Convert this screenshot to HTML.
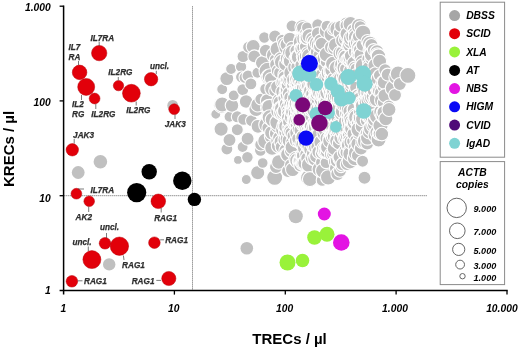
<!DOCTYPE html>
<html><head><meta charset="utf-8"><title>KRECs vs TRECs</title>
<style>html,body{margin:0;padding:0;background:#fff;}body{width:520px;height:349px;position:relative;overflow:hidden;font-family:"Liberation Sans",sans-serif;}</style></head>
<body>
<svg width="520" height="349" viewBox="0 0 520 349" style="position:absolute;left:0;top:0;will-change:transform">
<rect width="520" height="349" fill="#fff"/>
<line x1="192.5" y1="6.2" x2="192.5" y2="290.4" stroke="#6a6a6a" stroke-width="0.8" stroke-dasharray="1.3 0.7"/>
<line x1="63.6" y1="195.7" x2="427" y2="195.7" stroke="#6a6a6a" stroke-width="0.8" stroke-dasharray="1.3 0.7"/>
<g fill="#c0c0c0" stroke="#fff" stroke-width="1.1">
<circle cx="215.8" cy="114.2" r="5.0"/>
<circle cx="221.1" cy="129.1" r="7.1"/>
<circle cx="221.8" cy="105.2" r="8.0"/>
<circle cx="222.2" cy="89.2" r="5.5"/>
<circle cx="222.2" cy="104.5" r="7.5"/>
<circle cx="226.8" cy="78.6" r="7.0"/>
<circle cx="226.9" cy="149.0" r="6.0"/>
<circle cx="229.5" cy="116.8" r="5.5"/>
<circle cx="229.5" cy="140.0" r="6.5"/>
<circle cx="231.1" cy="69.0" r="5.5"/>
<circle cx="232.0" cy="105.5" r="6.8"/>
<circle cx="233.7" cy="95.4" r="5.5"/>
<circle cx="237.3" cy="116.8" r="6.0"/>
<circle cx="237.3" cy="129.7" r="6.0"/>
<circle cx="238.0" cy="159.9" r="4.5"/>
<circle cx="241.1" cy="66.7" r="5.7"/>
<circle cx="241.5" cy="77.0" r="6.0"/>
<circle cx="242.6" cy="147.0" r="5.5"/>
<circle cx="242.8" cy="89.6" r="6.0"/>
<circle cx="243.1" cy="56.5" r="6.1"/>
<circle cx="243.7" cy="119.4" r="6.0"/>
<circle cx="245.0" cy="77.5" r="6.0"/>
<circle cx="246.1" cy="101.5" r="6.8"/>
<circle cx="246.3" cy="179.5" r="5.0"/>
<circle cx="247.4" cy="157.3" r="5.8"/>
<circle cx="247.6" cy="138.7" r="6.5"/>
<circle cx="248.0" cy="76.0" r="6.0"/>
<circle cx="248.6" cy="47.2" r="6.0"/>
<circle cx="250.9" cy="83.9" r="6.0"/>
<circle cx="251.5" cy="120.6" r="6.0"/>
<circle cx="253.2" cy="46.5" r="7.0"/>
<circle cx="254.3" cy="56.4" r="6.5"/>
<circle cx="256.2" cy="109.1" r="7.4"/>
<circle cx="257.4" cy="72.7" r="5.5"/>
<circle cx="257.7" cy="172.7" r="7.1"/>
<circle cx="257.8" cy="104.9" r="7.1"/>
<circle cx="258.0" cy="126.3" r="6.9"/>
<circle cx="260.5" cy="150.3" r="6.0"/>
<circle cx="260.6" cy="99.1" r="5.8"/>
<circle cx="260.9" cy="144.8" r="6.2"/>
<circle cx="262.5" cy="62.8" r="7.1"/>
<circle cx="262.7" cy="163.0" r="5.4"/>
<circle cx="264.3" cy="37.5" r="5.7"/>
<circle cx="265.7" cy="140.9" r="8.0"/>
<circle cx="265.8" cy="50.6" r="6.5"/>
<circle cx="265.9" cy="89.1" r="6.2"/>
<circle cx="266.5" cy="124.8" r="7.8"/>
<circle cx="267.4" cy="100.7" r="7.0"/>
<circle cx="268.0" cy="71.3" r="9.0"/>
<circle cx="268.4" cy="107.6" r="7.9"/>
<circle cx="268.6" cy="114.9" r="6.8"/>
<circle cx="268.8" cy="77.2" r="7.9"/>
<circle cx="268.8" cy="127.9" r="6.9"/>
<circle cx="269.5" cy="107.2" r="7.8"/>
<circle cx="269.6" cy="117.3" r="7.5"/>
<circle cx="270.0" cy="76.6" r="7.9"/>
<circle cx="270.8" cy="78.8" r="6.3"/>
<circle cx="270.9" cy="136.6" r="6.6"/>
<circle cx="271.8" cy="132.7" r="7.2"/>
<circle cx="272.1" cy="147.9" r="7.4"/>
<circle cx="272.2" cy="88.6" r="7.5"/>
<circle cx="272.7" cy="119.7" r="7.5"/>
<circle cx="273.8" cy="55.2" r="7.5"/>
<circle cx="274.6" cy="90.9" r="5.9"/>
<circle cx="274.7" cy="177.4" r="8.0"/>
<circle cx="275.0" cy="36.4" r="6.4"/>
<circle cx="275.2" cy="59.5" r="5.9"/>
<circle cx="276.0" cy="167.0" r="6.5"/>
<circle cx="276.6" cy="64.6" r="7.0"/>
<circle cx="276.8" cy="133.7" r="7.4"/>
<circle cx="277.6" cy="87.1" r="7.0"/>
<circle cx="277.6" cy="49.0" r="7.6"/>
<circle cx="277.6" cy="126.3" r="7.0"/>
<circle cx="277.8" cy="122.4" r="8.0"/>
<circle cx="277.9" cy="141.2" r="7.1"/>
<circle cx="278.1" cy="70.9" r="6.8"/>
<circle cx="278.1" cy="111.3" r="7.3"/>
<circle cx="278.3" cy="146.0" r="7.0"/>
<circle cx="278.6" cy="107.4" r="6.2"/>
<circle cx="278.8" cy="162.0" r="7.3"/>
<circle cx="279.1" cy="105.9" r="6.8"/>
<circle cx="279.1" cy="137.7" r="6.5"/>
<circle cx="279.6" cy="100.9" r="7.8"/>
<circle cx="279.9" cy="72.7" r="6.3"/>
<circle cx="280.2" cy="102.5" r="7.1"/>
<circle cx="280.4" cy="107.5" r="6.5"/>
<circle cx="280.5" cy="113.6" r="6.7"/>
<circle cx="280.9" cy="112.5" r="7.2"/>
<circle cx="281.2" cy="59.3" r="7.5"/>
<circle cx="281.4" cy="82.5" r="5.8"/>
<circle cx="281.4" cy="141.9" r="7.4"/>
<circle cx="281.5" cy="146.9" r="6.3"/>
<circle cx="281.7" cy="130.0" r="6.1"/>
<circle cx="282.0" cy="61.9" r="7.6"/>
<circle cx="282.1" cy="108.8" r="7.6"/>
<circle cx="282.4" cy="91.7" r="6.7"/>
<circle cx="282.4" cy="40.1" r="5.9"/>
<circle cx="282.6" cy="112.8" r="6.7"/>
<circle cx="283.3" cy="125.7" r="6.5"/>
<circle cx="283.6" cy="112.1" r="6.1"/>
<circle cx="284.0" cy="43.8" r="6.5"/>
<circle cx="284.1" cy="81.3" r="7.3"/>
<circle cx="284.4" cy="122.3" r="6.2"/>
<circle cx="284.4" cy="74.4" r="6.5"/>
<circle cx="284.5" cy="77.2" r="6.5"/>
<circle cx="284.6" cy="104.5" r="6.0"/>
<circle cx="284.7" cy="139.7" r="6.8"/>
<circle cx="284.9" cy="102.3" r="5.9"/>
<circle cx="285.0" cy="131.7" r="6.3"/>
<circle cx="285.1" cy="111.0" r="7.6"/>
<circle cx="285.1" cy="124.7" r="7.0"/>
<circle cx="285.7" cy="150.3" r="6.8"/>
<circle cx="285.8" cy="97.8" r="7.1"/>
<circle cx="285.8" cy="98.0" r="7.9"/>
<circle cx="285.9" cy="103.6" r="6.5"/>
<circle cx="286.0" cy="132.2" r="6.9"/>
<circle cx="286.0" cy="132.0" r="7.2"/>
<circle cx="286.0" cy="153.5" r="6.0"/>
<circle cx="286.2" cy="44.8" r="6.0"/>
<circle cx="286.2" cy="126.4" r="7.5"/>
<circle cx="286.3" cy="92.7" r="7.2"/>
<circle cx="286.4" cy="82.1" r="7.6"/>
<circle cx="286.4" cy="63.9" r="7.8"/>
<circle cx="286.5" cy="47.4" r="7.7"/>
<circle cx="286.8" cy="81.3" r="6.6"/>
<circle cx="286.8" cy="44.5" r="6.8"/>
<circle cx="287.1" cy="107.2" r="6.3"/>
<circle cx="287.3" cy="58.6" r="7.1"/>
<circle cx="287.4" cy="88.2" r="7.4"/>
<circle cx="287.7" cy="110.8" r="6.1"/>
<circle cx="287.9" cy="114.6" r="6.6"/>
<circle cx="287.9" cy="138.9" r="7.8"/>
<circle cx="288.0" cy="171.0" r="6.5"/>
<circle cx="288.0" cy="154.6" r="7.4"/>
<circle cx="288.1" cy="94.7" r="7.9"/>
<circle cx="288.1" cy="88.7" r="7.9"/>
<circle cx="288.1" cy="127.2" r="6.1"/>
<circle cx="288.1" cy="117.8" r="6.7"/>
<circle cx="288.2" cy="132.8" r="6.5"/>
<circle cx="288.4" cy="52.5" r="5.9"/>
<circle cx="288.5" cy="99.7" r="5.9"/>
<circle cx="288.7" cy="84.7" r="7.5"/>
<circle cx="289.0" cy="59.9" r="6.7"/>
<circle cx="289.0" cy="79.9" r="7.0"/>
<circle cx="289.5" cy="121.8" r="7.0"/>
<circle cx="289.9" cy="38.9" r="6.8"/>
<circle cx="289.9" cy="140.8" r="6.7"/>
<circle cx="289.9" cy="93.8" r="7.6"/>
<circle cx="289.9" cy="140.6" r="7.8"/>
<circle cx="290.1" cy="99.0" r="6.9"/>
<circle cx="290.2" cy="97.4" r="6.4"/>
<circle cx="290.4" cy="104.8" r="6.5"/>
<circle cx="290.4" cy="130.4" r="7.1"/>
<circle cx="290.5" cy="61.3" r="7.2"/>
<circle cx="290.8" cy="131.4" r="7.0"/>
<circle cx="290.9" cy="111.9" r="6.5"/>
<circle cx="290.9" cy="132.9" r="5.9"/>
<circle cx="291.0" cy="165.0" r="6.5"/>
<circle cx="291.4" cy="79.2" r="7.8"/>
<circle cx="291.4" cy="150.8" r="7.0"/>
<circle cx="291.8" cy="72.7" r="8.0"/>
<circle cx="291.9" cy="142.2" r="6.3"/>
<circle cx="291.9" cy="82.1" r="5.8"/>
<circle cx="291.9" cy="47.1" r="5.9"/>
<circle cx="292.0" cy="26.0" r="6.0"/>
<circle cx="292.0" cy="107.8" r="6.7"/>
<circle cx="292.1" cy="113.6" r="6.7"/>
<circle cx="292.2" cy="117.1" r="7.9"/>
<circle cx="292.4" cy="85.6" r="6.0"/>
<circle cx="292.6" cy="169.5" r="7.1"/>
<circle cx="292.6" cy="52.7" r="7.9"/>
<circle cx="292.6" cy="108.1" r="7.1"/>
<circle cx="292.7" cy="147.3" r="7.6"/>
<circle cx="293.3" cy="135.7" r="6.3"/>
<circle cx="293.4" cy="112.0" r="7.8"/>
<circle cx="293.5" cy="120.4" r="6.4"/>
<circle cx="293.8" cy="104.6" r="7.5"/>
<circle cx="293.9" cy="106.0" r="6.1"/>
<circle cx="294.2" cy="85.3" r="6.6"/>
<circle cx="294.3" cy="84.8" r="7.8"/>
<circle cx="294.3" cy="123.9" r="6.5"/>
<circle cx="294.3" cy="91.6" r="6.5"/>
<circle cx="294.4" cy="79.7" r="7.8"/>
<circle cx="294.5" cy="115.8" r="6.9"/>
<circle cx="294.8" cy="104.2" r="6.4"/>
<circle cx="294.8" cy="67.5" r="7.1"/>
<circle cx="294.9" cy="109.7" r="6.9"/>
<circle cx="295.0" cy="76.5" r="5.9"/>
<circle cx="295.1" cy="120.1" r="6.7"/>
<circle cx="295.2" cy="98.2" r="7.7"/>
<circle cx="295.2" cy="102.8" r="6.0"/>
<circle cx="295.3" cy="117.9" r="6.7"/>
<circle cx="295.3" cy="89.5" r="6.0"/>
<circle cx="295.4" cy="113.3" r="7.1"/>
<circle cx="295.7" cy="140.7" r="6.4"/>
<circle cx="295.7" cy="120.8" r="7.7"/>
<circle cx="295.8" cy="79.3" r="6.2"/>
<circle cx="296.1" cy="124.4" r="6.5"/>
<circle cx="296.3" cy="158.7" r="7.5"/>
<circle cx="296.3" cy="82.4" r="7.1"/>
<circle cx="296.3" cy="58.7" r="7.3"/>
<circle cx="296.4" cy="120.9" r="7.8"/>
<circle cx="296.4" cy="50.6" r="6.5"/>
<circle cx="296.5" cy="87.1" r="6.0"/>
<circle cx="296.7" cy="88.3" r="7.0"/>
<circle cx="296.7" cy="66.9" r="5.9"/>
<circle cx="296.7" cy="92.3" r="7.5"/>
<circle cx="296.8" cy="103.9" r="7.7"/>
<circle cx="296.9" cy="77.1" r="6.7"/>
<circle cx="296.9" cy="74.3" r="6.7"/>
<circle cx="297.1" cy="57.1" r="6.6"/>
<circle cx="297.3" cy="116.4" r="6.1"/>
<circle cx="297.3" cy="90.5" r="6.8"/>
<circle cx="297.4" cy="160.4" r="7.7"/>
<circle cx="297.5" cy="79.3" r="7.8"/>
<circle cx="297.5" cy="124.8" r="7.3"/>
<circle cx="297.6" cy="132.8" r="7.9"/>
<circle cx="297.7" cy="57.1" r="7.3"/>
<circle cx="297.7" cy="82.8" r="6.8"/>
<circle cx="297.8" cy="118.4" r="8.0"/>
<circle cx="297.8" cy="93.5" r="7.7"/>
<circle cx="297.9" cy="111.9" r="7.3"/>
<circle cx="298.2" cy="109.2" r="6.6"/>
<circle cx="298.2" cy="79.9" r="6.6"/>
<circle cx="298.2" cy="118.1" r="6.7"/>
<circle cx="298.2" cy="108.7" r="7.7"/>
<circle cx="298.3" cy="141.5" r="6.3"/>
<circle cx="298.3" cy="128.8" r="6.1"/>
<circle cx="298.3" cy="138.6" r="6.6"/>
<circle cx="298.5" cy="91.5" r="7.0"/>
<circle cx="298.8" cy="56.9" r="7.5"/>
<circle cx="298.9" cy="110.3" r="7.1"/>
<circle cx="299.0" cy="95.6" r="7.2"/>
<circle cx="299.0" cy="104.0" r="7.8"/>
<circle cx="299.0" cy="161.2" r="6.7"/>
<circle cx="299.1" cy="161.4" r="6.1"/>
<circle cx="299.4" cy="73.6" r="7.7"/>
<circle cx="299.6" cy="102.8" r="6.6"/>
<circle cx="299.6" cy="116.2" r="7.6"/>
<circle cx="299.9" cy="38.8" r="5.9"/>
<circle cx="299.9" cy="92.0" r="7.8"/>
<circle cx="300.0" cy="105.6" r="7.8"/>
<circle cx="300.0" cy="121.2" r="5.9"/>
<circle cx="300.0" cy="122.6" r="7.2"/>
<circle cx="300.1" cy="44.4" r="5.9"/>
<circle cx="300.1" cy="81.1" r="7.4"/>
<circle cx="300.2" cy="117.4" r="6.7"/>
<circle cx="300.2" cy="99.1" r="7.1"/>
<circle cx="300.2" cy="105.5" r="6.1"/>
<circle cx="300.3" cy="116.6" r="7.4"/>
<circle cx="300.4" cy="165.4" r="6.5"/>
<circle cx="300.8" cy="102.6" r="7.6"/>
<circle cx="300.8" cy="105.7" r="7.8"/>
<circle cx="300.8" cy="104.9" r="6.4"/>
<circle cx="300.9" cy="42.0" r="7.7"/>
<circle cx="301.0" cy="65.0" r="6.1"/>
<circle cx="301.0" cy="94.3" r="6.2"/>
<circle cx="301.1" cy="118.7" r="7.1"/>
<circle cx="301.1" cy="160.3" r="7.3"/>
<circle cx="301.2" cy="48.6" r="7.0"/>
<circle cx="301.2" cy="84.2" r="7.2"/>
<circle cx="301.2" cy="84.2" r="6.4"/>
<circle cx="301.5" cy="88.8" r="7.0"/>
<circle cx="301.6" cy="105.6" r="7.7"/>
<circle cx="301.7" cy="155.3" r="6.7"/>
<circle cx="301.7" cy="130.4" r="7.7"/>
<circle cx="301.8" cy="114.6" r="6.1"/>
<circle cx="301.8" cy="143.3" r="7.1"/>
<circle cx="302.0" cy="97.7" r="7.4"/>
<circle cx="302.2" cy="116.9" r="7.9"/>
<circle cx="302.3" cy="48.8" r="7.4"/>
<circle cx="302.3" cy="27.0" r="7.4"/>
<circle cx="302.3" cy="124.8" r="6.3"/>
<circle cx="302.5" cy="89.0" r="6.8"/>
<circle cx="302.5" cy="92.1" r="5.8"/>
<circle cx="302.6" cy="121.2" r="6.1"/>
<circle cx="302.6" cy="87.7" r="6.2"/>
<circle cx="302.6" cy="137.0" r="6.4"/>
<circle cx="302.7" cy="72.5" r="7.1"/>
<circle cx="302.8" cy="27.8" r="6.3"/>
<circle cx="302.9" cy="162.6" r="6.1"/>
<circle cx="303.0" cy="137.0" r="7.3"/>
<circle cx="303.1" cy="144.7" r="7.3"/>
<circle cx="303.1" cy="163.0" r="7.6"/>
<circle cx="303.2" cy="121.9" r="7.3"/>
<circle cx="303.2" cy="76.6" r="6.9"/>
<circle cx="303.2" cy="47.6" r="6.5"/>
<circle cx="303.4" cy="56.3" r="7.1"/>
<circle cx="303.4" cy="160.1" r="7.3"/>
<circle cx="303.5" cy="96.7" r="7.5"/>
<circle cx="303.6" cy="155.4" r="7.2"/>
<circle cx="303.6" cy="106.3" r="6.1"/>
<circle cx="303.8" cy="109.9" r="8.0"/>
<circle cx="303.8" cy="163.4" r="7.1"/>
<circle cx="303.8" cy="92.6" r="5.9"/>
<circle cx="303.8" cy="122.2" r="5.9"/>
<circle cx="303.9" cy="78.3" r="5.9"/>
<circle cx="304.0" cy="81.7" r="6.2"/>
<circle cx="304.2" cy="58.1" r="7.0"/>
<circle cx="304.4" cy="120.2" r="7.0"/>
<circle cx="304.4" cy="99.7" r="7.6"/>
<circle cx="304.5" cy="38.7" r="7.8"/>
<circle cx="304.7" cy="68.4" r="6.1"/>
<circle cx="304.7" cy="148.2" r="7.2"/>
<circle cx="304.7" cy="111.4" r="8.0"/>
<circle cx="304.8" cy="91.5" r="6.6"/>
<circle cx="304.9" cy="162.9" r="7.1"/>
<circle cx="304.9" cy="125.4" r="6.7"/>
<circle cx="304.9" cy="78.4" r="6.5"/>
<circle cx="305.1" cy="104.0" r="7.8"/>
<circle cx="305.2" cy="93.9" r="7.1"/>
<circle cx="305.4" cy="39.8" r="6.1"/>
<circle cx="305.5" cy="59.9" r="6.0"/>
<circle cx="305.5" cy="111.7" r="6.5"/>
<circle cx="305.6" cy="33.1" r="6.0"/>
<circle cx="305.6" cy="66.6" r="6.8"/>
<circle cx="305.7" cy="56.0" r="6.5"/>
<circle cx="305.8" cy="118.6" r="7.2"/>
<circle cx="305.9" cy="116.1" r="7.2"/>
<circle cx="305.9" cy="97.1" r="7.1"/>
<circle cx="305.9" cy="87.5" r="7.1"/>
<circle cx="306.0" cy="142.3" r="7.6"/>
<circle cx="306.2" cy="118.3" r="7.8"/>
<circle cx="306.2" cy="46.8" r="6.8"/>
<circle cx="306.3" cy="85.5" r="6.3"/>
<circle cx="306.5" cy="129.5" r="6.8"/>
<circle cx="306.6" cy="112.8" r="7.4"/>
<circle cx="306.6" cy="154.5" r="6.9"/>
<circle cx="306.6" cy="37.5" r="7.4"/>
<circle cx="306.9" cy="108.6" r="7.6"/>
<circle cx="306.9" cy="116.7" r="6.3"/>
<circle cx="307.0" cy="52.6" r="5.8"/>
<circle cx="307.0" cy="27.5" r="5.5"/>
<circle cx="307.0" cy="37.8" r="6.8"/>
<circle cx="307.1" cy="96.8" r="7.6"/>
<circle cx="307.3" cy="158.4" r="6.6"/>
<circle cx="307.4" cy="119.5" r="7.0"/>
<circle cx="307.4" cy="70.4" r="6.3"/>
<circle cx="307.6" cy="98.0" r="7.4"/>
<circle cx="307.7" cy="117.7" r="6.5"/>
<circle cx="307.7" cy="146.3" r="6.8"/>
<circle cx="307.8" cy="130.5" r="6.7"/>
<circle cx="307.9" cy="100.6" r="6.0"/>
<circle cx="308.0" cy="79.7" r="7.7"/>
<circle cx="308.0" cy="62.0" r="7.3"/>
<circle cx="308.3" cy="140.6" r="5.8"/>
<circle cx="308.3" cy="67.1" r="7.0"/>
<circle cx="308.4" cy="93.1" r="5.9"/>
<circle cx="308.4" cy="87.8" r="6.2"/>
<circle cx="308.5" cy="111.9" r="6.7"/>
<circle cx="308.6" cy="177.7" r="8.0"/>
<circle cx="308.8" cy="146.1" r="7.0"/>
<circle cx="308.8" cy="85.8" r="7.3"/>
<circle cx="309.0" cy="134.5" r="6.7"/>
<circle cx="309.1" cy="134.0" r="7.6"/>
<circle cx="309.1" cy="164.9" r="7.7"/>
<circle cx="309.2" cy="128.4" r="6.0"/>
<circle cx="309.3" cy="36.0" r="7.4"/>
<circle cx="309.3" cy="56.1" r="7.8"/>
<circle cx="309.3" cy="135.7" r="6.1"/>
<circle cx="309.4" cy="116.5" r="6.3"/>
<circle cx="309.4" cy="141.2" r="5.8"/>
<circle cx="309.5" cy="68.7" r="5.9"/>
<circle cx="309.6" cy="132.6" r="5.9"/>
<circle cx="309.6" cy="106.5" r="7.7"/>
<circle cx="309.8" cy="135.0" r="7.4"/>
<circle cx="309.8" cy="88.0" r="6.0"/>
<circle cx="309.9" cy="179.1" r="7.5"/>
<circle cx="310.2" cy="99.4" r="7.4"/>
<circle cx="310.3" cy="83.6" r="6.5"/>
<circle cx="310.3" cy="126.2" r="6.1"/>
<circle cx="310.3" cy="62.3" r="7.1"/>
<circle cx="310.4" cy="105.9" r="6.7"/>
<circle cx="310.6" cy="60.8" r="5.9"/>
<circle cx="310.7" cy="90.8" r="7.2"/>
<circle cx="310.9" cy="97.9" r="6.0"/>
<circle cx="310.9" cy="116.5" r="6.0"/>
<circle cx="311.1" cy="80.0" r="6.3"/>
<circle cx="311.1" cy="110.7" r="6.2"/>
<circle cx="311.2" cy="75.2" r="6.6"/>
<circle cx="311.5" cy="59.7" r="7.3"/>
<circle cx="311.6" cy="149.4" r="7.9"/>
<circle cx="311.6" cy="131.5" r="5.9"/>
<circle cx="312.0" cy="104.1" r="7.9"/>
<circle cx="312.2" cy="107.6" r="7.6"/>
<circle cx="312.3" cy="39.0" r="6.7"/>
<circle cx="312.4" cy="137.3" r="7.4"/>
<circle cx="312.5" cy="67.2" r="7.1"/>
<circle cx="312.6" cy="144.2" r="7.1"/>
<circle cx="312.8" cy="131.9" r="7.8"/>
<circle cx="312.8" cy="95.3" r="7.3"/>
<circle cx="312.9" cy="83.6" r="7.5"/>
<circle cx="313.0" cy="157.5" r="7.9"/>
<circle cx="313.1" cy="102.0" r="7.6"/>
<circle cx="313.1" cy="125.9" r="6.2"/>
<circle cx="313.2" cy="65.4" r="8.0"/>
<circle cx="313.2" cy="84.9" r="7.2"/>
<circle cx="313.5" cy="102.0" r="6.1"/>
<circle cx="313.6" cy="41.5" r="6.5"/>
<circle cx="313.6" cy="108.4" r="6.5"/>
<circle cx="313.7" cy="94.0" r="8.0"/>
<circle cx="313.7" cy="103.6" r="6.4"/>
<circle cx="313.8" cy="103.4" r="6.1"/>
<circle cx="313.8" cy="99.2" r="6.9"/>
<circle cx="313.9" cy="76.5" r="7.6"/>
<circle cx="313.9" cy="86.7" r="7.2"/>
<circle cx="313.9" cy="150.9" r="6.0"/>
<circle cx="314.1" cy="98.4" r="6.2"/>
<circle cx="314.2" cy="84.1" r="7.5"/>
<circle cx="314.2" cy="109.9" r="6.1"/>
<circle cx="314.3" cy="153.7" r="7.9"/>
<circle cx="314.4" cy="146.2" r="7.5"/>
<circle cx="314.4" cy="46.5" r="7.2"/>
<circle cx="314.5" cy="64.7" r="6.2"/>
<circle cx="314.5" cy="127.8" r="7.8"/>
<circle cx="314.6" cy="110.5" r="7.7"/>
<circle cx="314.6" cy="132.8" r="6.2"/>
<circle cx="314.7" cy="140.6" r="6.8"/>
<circle cx="314.7" cy="103.4" r="5.9"/>
<circle cx="314.8" cy="122.1" r="7.2"/>
<circle cx="314.9" cy="93.1" r="6.0"/>
<circle cx="315.0" cy="103.9" r="7.7"/>
<circle cx="315.0" cy="61.3" r="7.0"/>
<circle cx="315.2" cy="158.7" r="7.5"/>
<circle cx="315.5" cy="101.5" r="6.2"/>
<circle cx="315.5" cy="124.7" r="7.1"/>
<circle cx="315.6" cy="104.2" r="6.7"/>
<circle cx="315.8" cy="127.6" r="7.5"/>
<circle cx="315.8" cy="147.1" r="7.3"/>
<circle cx="316.0" cy="55.2" r="6.8"/>
<circle cx="316.2" cy="105.7" r="7.3"/>
<circle cx="316.3" cy="71.5" r="5.9"/>
<circle cx="316.4" cy="136.7" r="8.0"/>
<circle cx="316.4" cy="156.4" r="6.8"/>
<circle cx="316.6" cy="43.0" r="7.3"/>
<circle cx="316.7" cy="52.0" r="6.4"/>
<circle cx="316.7" cy="118.3" r="7.1"/>
<circle cx="316.8" cy="87.2" r="7.0"/>
<circle cx="316.8" cy="104.2" r="7.4"/>
<circle cx="317.0" cy="136.8" r="7.7"/>
<circle cx="317.1" cy="95.1" r="7.7"/>
<circle cx="317.1" cy="119.8" r="8.0"/>
<circle cx="317.1" cy="110.3" r="7.3"/>
<circle cx="317.1" cy="60.9" r="7.1"/>
<circle cx="317.2" cy="100.8" r="7.8"/>
<circle cx="317.4" cy="105.7" r="8.0"/>
<circle cx="317.5" cy="93.0" r="6.8"/>
<circle cx="317.6" cy="82.8" r="7.1"/>
<circle cx="317.7" cy="124.5" r="7.2"/>
<circle cx="317.7" cy="24.8" r="6.0"/>
<circle cx="317.7" cy="111.0" r="6.4"/>
<circle cx="317.8" cy="108.9" r="7.0"/>
<circle cx="317.9" cy="99.3" r="7.0"/>
<circle cx="318.0" cy="33.5" r="6.6"/>
<circle cx="318.1" cy="89.6" r="6.5"/>
<circle cx="318.2" cy="119.2" r="7.5"/>
<circle cx="318.2" cy="85.7" r="6.8"/>
<circle cx="318.2" cy="93.8" r="7.9"/>
<circle cx="318.2" cy="119.5" r="7.5"/>
<circle cx="318.3" cy="124.3" r="7.3"/>
<circle cx="318.3" cy="75.0" r="6.2"/>
<circle cx="318.3" cy="146.8" r="7.5"/>
<circle cx="318.4" cy="85.3" r="5.8"/>
<circle cx="318.4" cy="92.6" r="6.2"/>
<circle cx="318.6" cy="136.3" r="6.7"/>
<circle cx="318.7" cy="77.9" r="5.9"/>
<circle cx="318.8" cy="82.9" r="6.1"/>
<circle cx="318.8" cy="75.9" r="6.1"/>
<circle cx="318.8" cy="91.3" r="7.5"/>
<circle cx="318.9" cy="152.0" r="7.0"/>
<circle cx="318.9" cy="121.1" r="7.6"/>
<circle cx="318.9" cy="64.4" r="7.4"/>
<circle cx="319.0" cy="44.7" r="7.7"/>
<circle cx="319.2" cy="129.7" r="6.0"/>
<circle cx="319.3" cy="91.8" r="7.9"/>
<circle cx="319.4" cy="64.7" r="7.9"/>
<circle cx="319.4" cy="169.1" r="7.4"/>
<circle cx="319.4" cy="127.5" r="7.7"/>
<circle cx="319.5" cy="133.5" r="7.8"/>
<circle cx="319.5" cy="79.2" r="7.4"/>
<circle cx="319.5" cy="93.8" r="6.9"/>
<circle cx="319.7" cy="134.7" r="7.8"/>
<circle cx="319.7" cy="117.9" r="7.8"/>
<circle cx="319.8" cy="105.7" r="6.6"/>
<circle cx="319.8" cy="116.7" r="6.3"/>
<circle cx="319.9" cy="55.3" r="7.0"/>
<circle cx="319.9" cy="122.3" r="7.3"/>
<circle cx="319.9" cy="74.4" r="8.0"/>
<circle cx="320.1" cy="118.2" r="6.7"/>
<circle cx="320.2" cy="76.8" r="6.9"/>
<circle cx="320.3" cy="99.7" r="6.1"/>
<circle cx="320.4" cy="122.1" r="7.0"/>
<circle cx="320.5" cy="108.0" r="5.9"/>
<circle cx="320.6" cy="82.0" r="7.0"/>
<circle cx="320.9" cy="142.0" r="7.1"/>
<circle cx="320.9" cy="59.9" r="6.0"/>
<circle cx="320.9" cy="45.9" r="7.5"/>
<circle cx="320.9" cy="40.9" r="7.0"/>
<circle cx="321.0" cy="107.7" r="7.0"/>
<circle cx="321.1" cy="113.1" r="7.0"/>
<circle cx="321.2" cy="66.0" r="7.2"/>
<circle cx="321.6" cy="43.6" r="6.3"/>
<circle cx="321.7" cy="107.7" r="5.8"/>
<circle cx="321.7" cy="162.5" r="6.2"/>
<circle cx="321.8" cy="69.6" r="6.0"/>
<circle cx="321.8" cy="128.1" r="6.0"/>
<circle cx="321.8" cy="152.9" r="6.5"/>
<circle cx="321.9" cy="126.6" r="6.8"/>
<circle cx="321.9" cy="87.4" r="7.0"/>
<circle cx="322.0" cy="99.6" r="7.9"/>
<circle cx="322.0" cy="112.4" r="6.3"/>
<circle cx="322.2" cy="180.4" r="6.0"/>
<circle cx="322.2" cy="90.3" r="7.1"/>
<circle cx="322.4" cy="120.8" r="7.4"/>
<circle cx="322.7" cy="95.8" r="7.8"/>
<circle cx="322.7" cy="81.2" r="6.8"/>
<circle cx="322.8" cy="127.9" r="6.1"/>
<circle cx="322.9" cy="66.7" r="7.1"/>
<circle cx="322.9" cy="109.3" r="5.9"/>
<circle cx="323.0" cy="119.1" r="7.8"/>
<circle cx="323.2" cy="97.8" r="6.1"/>
<circle cx="323.2" cy="74.5" r="7.6"/>
<circle cx="323.2" cy="170.8" r="7.7"/>
<circle cx="323.3" cy="96.8" r="6.7"/>
<circle cx="323.4" cy="62.1" r="6.7"/>
<circle cx="323.5" cy="95.6" r="6.8"/>
<circle cx="323.6" cy="151.8" r="6.3"/>
<circle cx="323.7" cy="107.9" r="6.2"/>
<circle cx="323.8" cy="94.5" r="6.9"/>
<circle cx="323.9" cy="81.5" r="6.9"/>
<circle cx="323.9" cy="149.0" r="7.6"/>
<circle cx="324.0" cy="125.6" r="6.4"/>
<circle cx="324.0" cy="90.4" r="6.4"/>
<circle cx="324.0" cy="77.6" r="6.0"/>
<circle cx="324.1" cy="126.1" r="6.0"/>
<circle cx="324.1" cy="120.7" r="7.7"/>
<circle cx="324.5" cy="83.7" r="7.5"/>
<circle cx="324.5" cy="66.5" r="6.7"/>
<circle cx="324.6" cy="80.4" r="7.4"/>
<circle cx="324.7" cy="111.3" r="7.8"/>
<circle cx="324.8" cy="103.6" r="7.3"/>
<circle cx="324.9" cy="58.3" r="7.9"/>
<circle cx="324.9" cy="133.4" r="8.0"/>
<circle cx="325.0" cy="95.7" r="6.5"/>
<circle cx="325.1" cy="123.5" r="6.8"/>
<circle cx="325.3" cy="109.0" r="6.1"/>
<circle cx="325.3" cy="124.0" r="6.2"/>
<circle cx="325.4" cy="77.2" r="6.4"/>
<circle cx="325.5" cy="128.1" r="6.0"/>
<circle cx="325.6" cy="148.7" r="6.9"/>
<circle cx="325.8" cy="149.4" r="7.7"/>
<circle cx="325.8" cy="117.7" r="7.3"/>
<circle cx="325.9" cy="86.5" r="7.6"/>
<circle cx="326.0" cy="123.4" r="7.7"/>
<circle cx="326.0" cy="100.9" r="6.5"/>
<circle cx="326.1" cy="162.6" r="6.0"/>
<circle cx="326.2" cy="130.1" r="7.9"/>
<circle cx="326.3" cy="151.2" r="7.5"/>
<circle cx="326.3" cy="111.5" r="6.7"/>
<circle cx="326.4" cy="93.0" r="5.8"/>
<circle cx="326.4" cy="102.4" r="6.8"/>
<circle cx="326.4" cy="151.8" r="6.1"/>
<circle cx="326.5" cy="120.4" r="7.5"/>
<circle cx="326.6" cy="61.8" r="6.3"/>
<circle cx="326.7" cy="105.4" r="6.7"/>
<circle cx="326.8" cy="127.1" r="6.1"/>
<circle cx="327.0" cy="30.9" r="7.8"/>
<circle cx="327.1" cy="109.1" r="6.0"/>
<circle cx="327.1" cy="26.2" r="6.0"/>
<circle cx="327.1" cy="54.4" r="7.9"/>
<circle cx="327.2" cy="138.4" r="7.2"/>
<circle cx="327.3" cy="126.1" r="7.2"/>
<circle cx="327.5" cy="146.7" r="7.5"/>
<circle cx="327.7" cy="92.6" r="7.9"/>
<circle cx="327.8" cy="88.7" r="5.9"/>
<circle cx="327.9" cy="119.0" r="6.3"/>
<circle cx="328.1" cy="77.0" r="7.2"/>
<circle cx="328.2" cy="177.4" r="7.7"/>
<circle cx="328.4" cy="147.0" r="7.9"/>
<circle cx="328.6" cy="85.2" r="6.1"/>
<circle cx="328.6" cy="108.3" r="6.2"/>
<circle cx="329.0" cy="72.7" r="7.8"/>
<circle cx="329.2" cy="88.7" r="7.0"/>
<circle cx="329.4" cy="138.1" r="6.6"/>
<circle cx="329.7" cy="72.0" r="6.4"/>
<circle cx="329.8" cy="68.4" r="5.8"/>
<circle cx="329.8" cy="86.6" r="7.8"/>
<circle cx="330.1" cy="70.4" r="6.3"/>
<circle cx="330.3" cy="129.7" r="6.6"/>
<circle cx="330.3" cy="87.8" r="5.9"/>
<circle cx="330.5" cy="140.8" r="7.8"/>
<circle cx="330.6" cy="134.2" r="6.3"/>
<circle cx="330.6" cy="114.2" r="6.7"/>
<circle cx="330.6" cy="87.8" r="6.1"/>
<circle cx="330.7" cy="113.8" r="7.7"/>
<circle cx="330.7" cy="103.8" r="6.2"/>
<circle cx="330.7" cy="92.7" r="7.3"/>
<circle cx="330.8" cy="78.8" r="6.4"/>
<circle cx="330.9" cy="154.2" r="6.5"/>
<circle cx="331.0" cy="47.2" r="6.5"/>
<circle cx="331.1" cy="107.6" r="7.3"/>
<circle cx="331.2" cy="85.2" r="7.9"/>
<circle cx="331.3" cy="86.5" r="7.1"/>
<circle cx="331.4" cy="94.0" r="6.5"/>
<circle cx="331.5" cy="97.2" r="7.0"/>
<circle cx="331.6" cy="131.2" r="6.4"/>
<circle cx="331.6" cy="74.1" r="5.8"/>
<circle cx="331.7" cy="76.4" r="6.4"/>
<circle cx="331.8" cy="34.4" r="7.8"/>
<circle cx="332.0" cy="137.2" r="6.5"/>
<circle cx="332.3" cy="76.8" r="6.8"/>
<circle cx="332.3" cy="96.5" r="6.8"/>
<circle cx="332.6" cy="79.7" r="7.6"/>
<circle cx="332.7" cy="83.1" r="7.6"/>
<circle cx="332.7" cy="69.9" r="7.9"/>
<circle cx="332.9" cy="154.0" r="6.6"/>
<circle cx="332.9" cy="121.7" r="6.6"/>
<circle cx="333.0" cy="123.7" r="6.7"/>
<circle cx="333.0" cy="132.9" r="6.9"/>
<circle cx="333.0" cy="103.1" r="7.9"/>
<circle cx="333.0" cy="63.8" r="7.5"/>
<circle cx="333.1" cy="88.7" r="7.0"/>
<circle cx="333.2" cy="127.4" r="7.5"/>
<circle cx="333.3" cy="132.0" r="6.2"/>
<circle cx="333.3" cy="85.7" r="6.0"/>
<circle cx="333.4" cy="117.1" r="5.9"/>
<circle cx="333.6" cy="29.2" r="6.7"/>
<circle cx="333.6" cy="102.4" r="7.5"/>
<circle cx="333.7" cy="78.8" r="6.7"/>
<circle cx="333.8" cy="48.5" r="6.2"/>
<circle cx="333.9" cy="27.5" r="6.0"/>
<circle cx="334.1" cy="91.5" r="7.4"/>
<circle cx="334.2" cy="152.2" r="6.6"/>
<circle cx="334.2" cy="108.8" r="5.9"/>
<circle cx="334.5" cy="87.0" r="6.6"/>
<circle cx="334.6" cy="136.1" r="7.5"/>
<circle cx="334.6" cy="148.2" r="7.4"/>
<circle cx="334.8" cy="125.0" r="6.0"/>
<circle cx="334.9" cy="97.5" r="7.6"/>
<circle cx="334.9" cy="161.6" r="6.5"/>
<circle cx="335.1" cy="96.7" r="5.9"/>
<circle cx="335.3" cy="130.5" r="6.9"/>
<circle cx="335.7" cy="45.1" r="7.3"/>
<circle cx="335.7" cy="107.1" r="6.8"/>
<circle cx="335.8" cy="79.5" r="5.8"/>
<circle cx="335.9" cy="130.3" r="6.2"/>
<circle cx="335.9" cy="112.4" r="7.2"/>
<circle cx="336.6" cy="137.0" r="6.5"/>
<circle cx="336.6" cy="167.9" r="7.2"/>
<circle cx="336.7" cy="160.9" r="6.4"/>
<circle cx="337.0" cy="68.1" r="7.9"/>
<circle cx="337.2" cy="140.8" r="7.5"/>
<circle cx="337.4" cy="123.6" r="7.5"/>
<circle cx="337.5" cy="173.8" r="6.7"/>
<circle cx="337.6" cy="29.0" r="7.8"/>
<circle cx="337.8" cy="102.7" r="6.4"/>
<circle cx="337.8" cy="118.0" r="6.8"/>
<circle cx="337.9" cy="130.6" r="6.6"/>
<circle cx="338.3" cy="81.7" r="6.3"/>
<circle cx="338.7" cy="157.8" r="5.9"/>
<circle cx="338.7" cy="123.2" r="6.2"/>
<circle cx="338.9" cy="98.3" r="7.7"/>
<circle cx="338.9" cy="143.2" r="6.5"/>
<circle cx="339.0" cy="111.6" r="6.7"/>
<circle cx="339.1" cy="130.4" r="6.2"/>
<circle cx="339.3" cy="108.7" r="6.9"/>
<circle cx="339.3" cy="84.1" r="5.9"/>
<circle cx="339.3" cy="78.2" r="7.3"/>
<circle cx="339.5" cy="107.2" r="7.4"/>
<circle cx="339.5" cy="125.9" r="7.3"/>
<circle cx="339.6" cy="128.8" r="6.0"/>
<circle cx="339.6" cy="83.5" r="7.9"/>
<circle cx="339.7" cy="32.9" r="6.5"/>
<circle cx="339.8" cy="158.8" r="6.9"/>
<circle cx="339.9" cy="81.4" r="6.8"/>
<circle cx="340.0" cy="170.8" r="6.5"/>
<circle cx="340.0" cy="157.0" r="7.0"/>
<circle cx="340.0" cy="66.7" r="6.0"/>
<circle cx="340.1" cy="92.2" r="6.7"/>
<circle cx="340.2" cy="53.5" r="6.6"/>
<circle cx="340.2" cy="85.0" r="7.6"/>
<circle cx="340.4" cy="100.4" r="7.3"/>
<circle cx="340.5" cy="53.3" r="7.6"/>
<circle cx="340.6" cy="26.2" r="6.0"/>
<circle cx="340.7" cy="80.6" r="6.9"/>
<circle cx="340.7" cy="78.9" r="7.4"/>
<circle cx="340.9" cy="128.0" r="6.6"/>
<circle cx="340.9" cy="99.6" r="7.2"/>
<circle cx="340.9" cy="138.0" r="7.0"/>
<circle cx="341.1" cy="166.8" r="5.8"/>
<circle cx="341.1" cy="94.2" r="6.0"/>
<circle cx="341.3" cy="109.5" r="6.0"/>
<circle cx="341.4" cy="64.4" r="6.8"/>
<circle cx="341.7" cy="95.2" r="7.8"/>
<circle cx="341.9" cy="87.6" r="6.2"/>
<circle cx="342.1" cy="89.6" r="7.6"/>
<circle cx="342.1" cy="133.4" r="6.2"/>
<circle cx="342.1" cy="113.4" r="7.9"/>
<circle cx="342.2" cy="131.3" r="6.9"/>
<circle cx="342.3" cy="84.8" r="7.6"/>
<circle cx="342.7" cy="111.5" r="7.4"/>
<circle cx="342.7" cy="52.8" r="7.4"/>
<circle cx="342.7" cy="164.2" r="6.8"/>
<circle cx="342.8" cy="105.7" r="5.9"/>
<circle cx="342.8" cy="40.4" r="7.2"/>
<circle cx="343.0" cy="127.3" r="6.6"/>
<circle cx="343.0" cy="79.7" r="6.0"/>
<circle cx="343.2" cy="98.0" r="7.0"/>
<circle cx="343.4" cy="77.0" r="7.0"/>
<circle cx="343.5" cy="100.4" r="6.6"/>
<circle cx="343.6" cy="138.6" r="6.0"/>
<circle cx="343.8" cy="152.8" r="6.5"/>
<circle cx="344.0" cy="96.4" r="6.6"/>
<circle cx="344.2" cy="80.9" r="7.0"/>
<circle cx="344.2" cy="99.4" r="6.5"/>
<circle cx="344.4" cy="124.9" r="6.1"/>
<circle cx="344.6" cy="67.8" r="7.4"/>
<circle cx="344.6" cy="54.5" r="7.0"/>
<circle cx="344.7" cy="69.2" r="7.9"/>
<circle cx="344.7" cy="62.0" r="7.3"/>
<circle cx="344.8" cy="39.5" r="6.3"/>
<circle cx="344.9" cy="94.1" r="7.2"/>
<circle cx="344.9" cy="131.2" r="7.2"/>
<circle cx="345.0" cy="67.8" r="8.0"/>
<circle cx="345.0" cy="135.7" r="6.4"/>
<circle cx="345.2" cy="90.6" r="7.6"/>
<circle cx="345.3" cy="121.5" r="6.9"/>
<circle cx="345.6" cy="68.8" r="6.1"/>
<circle cx="345.7" cy="78.9" r="7.9"/>
<circle cx="345.7" cy="150.3" r="6.7"/>
<circle cx="345.9" cy="56.9" r="7.3"/>
<circle cx="346.0" cy="35.6" r="6.5"/>
<circle cx="346.0" cy="130.9" r="6.0"/>
<circle cx="346.0" cy="113.2" r="6.5"/>
<circle cx="346.1" cy="136.3" r="6.0"/>
<circle cx="346.1" cy="152.4" r="6.1"/>
<circle cx="346.2" cy="137.1" r="6.1"/>
<circle cx="346.2" cy="23.0" r="6.1"/>
<circle cx="346.3" cy="25.5" r="6.3"/>
<circle cx="346.4" cy="137.8" r="7.6"/>
<circle cx="346.4" cy="136.7" r="5.9"/>
<circle cx="346.4" cy="106.3" r="7.5"/>
<circle cx="346.8" cy="164.0" r="6.5"/>
<circle cx="347.0" cy="90.9" r="6.0"/>
<circle cx="347.0" cy="59.5" r="6.3"/>
<circle cx="347.1" cy="33.8" r="7.1"/>
<circle cx="347.2" cy="105.8" r="6.1"/>
<circle cx="347.2" cy="115.7" r="5.9"/>
<circle cx="347.6" cy="144.8" r="6.5"/>
<circle cx="347.6" cy="93.9" r="6.8"/>
<circle cx="347.7" cy="82.4" r="7.6"/>
<circle cx="347.8" cy="59.3" r="6.0"/>
<circle cx="347.9" cy="109.2" r="6.5"/>
<circle cx="348.2" cy="86.9" r="7.0"/>
<circle cx="348.3" cy="45.3" r="6.8"/>
<circle cx="348.8" cy="135.6" r="6.5"/>
<circle cx="349.1" cy="140.6" r="6.8"/>
<circle cx="349.1" cy="61.2" r="6.1"/>
<circle cx="349.2" cy="145.1" r="7.9"/>
<circle cx="349.3" cy="150.7" r="6.1"/>
<circle cx="349.3" cy="115.0" r="6.1"/>
<circle cx="349.4" cy="121.1" r="8.0"/>
<circle cx="349.4" cy="129.8" r="6.4"/>
<circle cx="349.4" cy="70.3" r="5.8"/>
<circle cx="349.5" cy="82.0" r="6.6"/>
<circle cx="349.6" cy="94.0" r="6.7"/>
<circle cx="349.6" cy="118.2" r="6.1"/>
<circle cx="349.6" cy="111.2" r="6.7"/>
<circle cx="349.6" cy="83.6" r="7.9"/>
<circle cx="349.8" cy="127.0" r="6.9"/>
<circle cx="349.9" cy="161.2" r="7.8"/>
<circle cx="350.1" cy="44.8" r="7.6"/>
<circle cx="350.1" cy="124.9" r="7.6"/>
<circle cx="350.5" cy="24.0" r="7.5"/>
<circle cx="350.5" cy="41.8" r="7.0"/>
<circle cx="350.6" cy="153.8" r="7.8"/>
<circle cx="350.6" cy="84.6" r="6.8"/>
<circle cx="350.8" cy="57.9" r="7.8"/>
<circle cx="351.0" cy="92.0" r="6.9"/>
<circle cx="351.2" cy="60.9" r="6.0"/>
<circle cx="351.2" cy="56.0" r="6.8"/>
<circle cx="351.2" cy="38.1" r="7.8"/>
<circle cx="351.3" cy="126.6" r="6.5"/>
<circle cx="351.4" cy="126.2" r="7.2"/>
<circle cx="351.5" cy="86.4" r="7.0"/>
<circle cx="351.5" cy="141.9" r="7.6"/>
<circle cx="351.6" cy="123.1" r="6.4"/>
<circle cx="351.6" cy="118.5" r="7.9"/>
<circle cx="351.8" cy="83.1" r="7.4"/>
<circle cx="352.1" cy="121.6" r="7.8"/>
<circle cx="352.4" cy="141.2" r="5.8"/>
<circle cx="352.5" cy="128.2" r="7.9"/>
<circle cx="352.5" cy="65.6" r="6.0"/>
<circle cx="353.2" cy="82.5" r="6.4"/>
<circle cx="353.5" cy="109.6" r="6.5"/>
<circle cx="353.5" cy="30.1" r="6.5"/>
<circle cx="353.5" cy="133.7" r="6.5"/>
<circle cx="353.6" cy="36.5" r="7.9"/>
<circle cx="353.6" cy="113.1" r="6.7"/>
<circle cx="353.9" cy="122.7" r="7.8"/>
<circle cx="354.0" cy="98.2" r="7.5"/>
<circle cx="354.0" cy="122.9" r="6.7"/>
<circle cx="354.1" cy="96.9" r="6.3"/>
<circle cx="354.1" cy="109.6" r="6.9"/>
<circle cx="354.3" cy="51.6" r="6.0"/>
<circle cx="354.4" cy="63.4" r="7.5"/>
<circle cx="354.5" cy="71.3" r="7.5"/>
<circle cx="354.6" cy="91.2" r="6.1"/>
<circle cx="354.6" cy="67.0" r="5.9"/>
<circle cx="355.0" cy="43.4" r="6.7"/>
<circle cx="355.1" cy="33.4" r="6.6"/>
<circle cx="355.2" cy="158.0" r="7.9"/>
<circle cx="355.4" cy="115.2" r="7.2"/>
<circle cx="355.5" cy="83.2" r="7.4"/>
<circle cx="355.5" cy="80.1" r="6.4"/>
<circle cx="355.6" cy="80.8" r="6.6"/>
<circle cx="355.8" cy="147.7" r="7.6"/>
<circle cx="355.9" cy="36.2" r="6.4"/>
<circle cx="355.9" cy="68.8" r="5.9"/>
<circle cx="356.0" cy="85.1" r="6.3"/>
<circle cx="356.0" cy="120.2" r="7.1"/>
<circle cx="356.0" cy="87.5" r="6.4"/>
<circle cx="356.1" cy="74.9" r="6.4"/>
<circle cx="356.1" cy="37.1" r="7.8"/>
<circle cx="356.4" cy="153.1" r="8.0"/>
<circle cx="356.5" cy="117.3" r="7.9"/>
<circle cx="356.6" cy="140.3" r="6.7"/>
<circle cx="356.9" cy="97.1" r="7.5"/>
<circle cx="357.6" cy="155.5" r="6.2"/>
<circle cx="357.7" cy="42.4" r="7.4"/>
<circle cx="357.8" cy="123.4" r="6.4"/>
<circle cx="357.9" cy="143.8" r="7.1"/>
<circle cx="357.9" cy="53.6" r="6.7"/>
<circle cx="358.0" cy="38.3" r="6.5"/>
<circle cx="358.1" cy="96.4" r="6.5"/>
<circle cx="358.2" cy="46.0" r="6.2"/>
<circle cx="358.5" cy="133.6" r="6.3"/>
<circle cx="358.5" cy="54.7" r="5.9"/>
<circle cx="358.7" cy="126.5" r="6.0"/>
<circle cx="358.8" cy="36.4" r="6.4"/>
<circle cx="358.9" cy="96.5" r="7.9"/>
<circle cx="359.0" cy="129.5" r="8.0"/>
<circle cx="359.1" cy="118.0" r="6.9"/>
<circle cx="359.1" cy="48.1" r="7.6"/>
<circle cx="359.1" cy="49.6" r="6.3"/>
<circle cx="359.2" cy="26.2" r="7.8"/>
<circle cx="359.4" cy="49.8" r="6.0"/>
<circle cx="359.4" cy="96.7" r="6.2"/>
<circle cx="359.8" cy="112.2" r="6.3"/>
<circle cx="360.0" cy="98.4" r="6.8"/>
<circle cx="360.2" cy="118.0" r="6.9"/>
<circle cx="360.2" cy="26.7" r="6.0"/>
<circle cx="361.0" cy="148.3" r="6.7"/>
<circle cx="361.2" cy="161.3" r="5.0"/>
<circle cx="361.3" cy="102.3" r="6.6"/>
<circle cx="361.5" cy="107.4" r="6.8"/>
<circle cx="361.6" cy="55.1" r="7.6"/>
<circle cx="361.6" cy="126.5" r="6.4"/>
<circle cx="361.7" cy="142.4" r="5.9"/>
<circle cx="361.8" cy="104.6" r="7.7"/>
<circle cx="361.9" cy="104.7" r="7.5"/>
<circle cx="362.2" cy="45.1" r="6.1"/>
<circle cx="362.4" cy="63.2" r="6.0"/>
<circle cx="362.5" cy="105.6" r="7.2"/>
<circle cx="362.6" cy="67.0" r="8.0"/>
<circle cx="362.6" cy="116.4" r="7.3"/>
<circle cx="362.6" cy="161.2" r="6.0"/>
<circle cx="362.9" cy="62.4" r="7.7"/>
<circle cx="362.9" cy="119.3" r="7.4"/>
<circle cx="363.0" cy="33.0" r="7.9"/>
<circle cx="363.0" cy="75.5" r="6.9"/>
<circle cx="363.2" cy="66.0" r="8.0"/>
<circle cx="363.6" cy="76.4" r="7.9"/>
<circle cx="363.9" cy="87.2" r="7.4"/>
<circle cx="364.2" cy="141.1" r="5.9"/>
<circle cx="364.5" cy="177.7" r="6.5"/>
<circle cx="364.6" cy="82.5" r="7.4"/>
<circle cx="364.8" cy="101.3" r="6.6"/>
<circle cx="364.8" cy="136.5" r="6.1"/>
<circle cx="365.0" cy="102.2" r="5.8"/>
<circle cx="365.4" cy="91.4" r="7.7"/>
<circle cx="365.4" cy="141.1" r="8.0"/>
<circle cx="366.6" cy="120.5" r="6.3"/>
<circle cx="366.7" cy="75.5" r="6.4"/>
<circle cx="366.7" cy="133.6" r="6.6"/>
<circle cx="366.8" cy="80.6" r="6.3"/>
<circle cx="367.0" cy="82.9" r="6.4"/>
<circle cx="367.2" cy="143.6" r="6.5"/>
<circle cx="367.4" cy="111.6" r="5.9"/>
<circle cx="367.5" cy="138.1" r="7.0"/>
<circle cx="367.5" cy="41.0" r="6.5"/>
<circle cx="367.8" cy="91.8" r="6.1"/>
<circle cx="368.1" cy="93.0" r="8.0"/>
<circle cx="368.1" cy="58.8" r="5.9"/>
<circle cx="368.2" cy="59.0" r="6.4"/>
<circle cx="368.6" cy="93.3" r="7.7"/>
<circle cx="368.6" cy="64.3" r="6.0"/>
<circle cx="368.7" cy="115.8" r="7.5"/>
<circle cx="368.9" cy="100.5" r="7.8"/>
<circle cx="369.1" cy="77.4" r="7.6"/>
<circle cx="369.2" cy="127.6" r="6.1"/>
<circle cx="369.3" cy="68.4" r="7.4"/>
<circle cx="369.4" cy="131.9" r="7.1"/>
<circle cx="369.5" cy="49.9" r="6.5"/>
<circle cx="369.6" cy="113.3" r="6.6"/>
<circle cx="369.8" cy="92.3" r="6.8"/>
<circle cx="369.9" cy="77.7" r="6.9"/>
<circle cx="370.0" cy="49.3" r="6.0"/>
<circle cx="370.0" cy="43.6" r="7.5"/>
<circle cx="370.6" cy="116.4" r="7.7"/>
<circle cx="370.6" cy="98.2" r="7.9"/>
<circle cx="370.6" cy="90.4" r="6.5"/>
<circle cx="370.9" cy="46.1" r="6.6"/>
<circle cx="371.0" cy="58.4" r="6.2"/>
<circle cx="371.0" cy="127.9" r="6.4"/>
<circle cx="371.2" cy="115.9" r="7.0"/>
<circle cx="371.3" cy="128.4" r="7.8"/>
<circle cx="371.5" cy="45.0" r="6.5"/>
<circle cx="371.6" cy="112.4" r="6.5"/>
<circle cx="371.9" cy="53.6" r="6.8"/>
<circle cx="372.0" cy="97.6" r="7.6"/>
<circle cx="372.2" cy="54.6" r="7.9"/>
<circle cx="373.0" cy="125.4" r="7.1"/>
<circle cx="373.0" cy="114.9" r="6.3"/>
<circle cx="373.1" cy="96.6" r="7.0"/>
<circle cx="373.6" cy="49.8" r="6.2"/>
<circle cx="373.9" cy="90.7" r="6.7"/>
<circle cx="374.0" cy="124.5" r="6.5"/>
<circle cx="374.7" cy="119.6" r="7.2"/>
<circle cx="374.7" cy="109.1" r="7.3"/>
<circle cx="374.8" cy="115.3" r="6.4"/>
<circle cx="375.0" cy="100.0" r="7.0"/>
<circle cx="375.2" cy="135.5" r="7.1"/>
<circle cx="375.4" cy="69.3" r="7.3"/>
<circle cx="375.8" cy="65.6" r="7.9"/>
<circle cx="376.1" cy="74.5" r="7.8"/>
<circle cx="376.2" cy="84.7" r="6.8"/>
<circle cx="376.4" cy="132.2" r="6.5"/>
<circle cx="376.6" cy="88.8" r="6.4"/>
<circle cx="376.8" cy="81.8" r="6.4"/>
<circle cx="376.9" cy="99.3" r="7.6"/>
<circle cx="377.0" cy="51.7" r="7.0"/>
<circle cx="377.2" cy="54.4" r="6.6"/>
<circle cx="377.3" cy="55.2" r="6.0"/>
<circle cx="377.5" cy="116.1" r="8.0"/>
<circle cx="378.4" cy="78.7" r="7.3"/>
<circle cx="378.5" cy="56.1" r="7.2"/>
<circle cx="378.6" cy="139.5" r="7.5"/>
<circle cx="378.6" cy="133.7" r="6.4"/>
<circle cx="378.7" cy="90.0" r="7.1"/>
<circle cx="379.5" cy="75.3" r="6.1"/>
<circle cx="379.6" cy="133.6" r="6.5"/>
<circle cx="379.6" cy="61.2" r="7.0"/>
<circle cx="379.7" cy="90.8" r="7.2"/>
<circle cx="380.5" cy="125.7" r="7.6"/>
<circle cx="381.0" cy="86.7" r="6.3"/>
<circle cx="381.0" cy="92.5" r="6.5"/>
<circle cx="381.0" cy="113.1" r="6.5"/>
<circle cx="381.2" cy="112.0" r="7.5"/>
<circle cx="381.9" cy="100.4" r="7.4"/>
<circle cx="381.9" cy="134.1" r="6.8"/>
<circle cx="382.2" cy="116.3" r="6.5"/>
<circle cx="382.2" cy="116.3" r="6.1"/>
<circle cx="382.8" cy="112.4" r="6.5"/>
<circle cx="383.1" cy="115.3" r="7.2"/>
<circle cx="383.1" cy="102.4" r="5.8"/>
<circle cx="383.2" cy="82.7" r="7.3"/>
<circle cx="383.7" cy="86.7" r="6.5"/>
<circle cx="383.8" cy="112.4" r="6.8"/>
<circle cx="384.7" cy="82.2" r="7.4"/>
<circle cx="384.9" cy="95.6" r="7.0"/>
<circle cx="385.1" cy="70.1" r="6.3"/>
<circle cx="385.8" cy="118.7" r="7.1"/>
<circle cx="387.7" cy="74.6" r="6.5"/>
<circle cx="388.8" cy="106.0" r="6.0"/>
<circle cx="389.0" cy="109.5" r="7.0"/>
<circle cx="393.2" cy="88.2" r="8.0"/>
<circle cx="395.0" cy="95.0" r="6.5"/>
<circle cx="395.8" cy="77.3" r="7.0"/>
<circle cx="398.1" cy="73.8" r="7.8"/>
<circle cx="399.8" cy="84.0" r="6.5"/>
<circle cx="407.2" cy="75.6" r="6.3"/>
<circle cx="407.9" cy="75.4" r="8.0"/>
</g>
<g fill="#c0c0c0">
<circle cx="78.2" cy="172.5" r="6.4"/>
<circle cx="100.4" cy="161.8" r="6.8"/>
<circle cx="172.7" cy="105.4" r="5.4"/>
<circle cx="109.2" cy="264.4" r="6.2"/>
<circle cx="295.8" cy="216.3" r="7"/>
<circle cx="246.8" cy="248.3" r="6.3"/>
</g>
<g fill="#7fd3d3">
<circle cx="300.2" cy="73.5" r="8"/>
<circle cx="309" cy="74.5" r="7.5"/>
<circle cx="316.5" cy="84.6" r="6.7"/>
<circle cx="331" cy="83.7" r="6.7"/>
<circle cx="337.7" cy="91.3" r="7"/>
<circle cx="341.5" cy="99" r="7.5"/>
<circle cx="349.2" cy="98" r="6.5"/>
<circle cx="348.3" cy="77" r="8"/>
<circle cx="362.7" cy="74" r="8.5"/>
<circle cx="364.6" cy="83.7" r="8"/>
<circle cx="296" cy="95.5" r="6.5"/>
<circle cx="363.7" cy="111" r="7.7"/>
<circle cx="335.8" cy="126.9" r="5.8"/>
<circle cx="316.5" cy="114" r="7"/>
<circle cx="329" cy="113" r="6"/>
</g>
<g fill="#7a0878">
<circle cx="302.7" cy="104.8" r="7.5"/>
<circle cx="325.2" cy="108" r="7.3"/>
<circle cx="299.2" cy="119.8" r="5.8"/>
<circle cx="319.4" cy="123.1" r="8.3"/>
</g>
<g fill="#0a0af5">
<circle cx="309.4" cy="63.6" r="8.5"/>
<circle cx="306" cy="138.1" r="7.7"/>
</g>
<g fill="#99f23a">
<circle cx="314.5" cy="237.5" r="7.3"/>
<circle cx="327" cy="234.3" r="7.5"/>
<circle cx="287.5" cy="262.5" r="8"/>
<circle cx="302.5" cy="260.5" r="6.8"/>
</g>
<g fill="#e314e3">
<circle cx="324.3" cy="214" r="6.5"/>
<circle cx="341.3" cy="242.5" r="8.3"/>
</g>
<g fill="#000">
<circle cx="149.2" cy="171.8" r="7.7"/>
<circle cx="136.7" cy="192.6" r="9.6"/>
<circle cx="182.3" cy="180.8" r="9.2"/>
<circle cx="194.4" cy="199.4" r="6.7"/>
</g>
<g fill="#e2000a" stroke="#b80008" stroke-width="0.5">
<circle cx="99.2" cy="53.1" r="7.7"/>
<circle cx="79.6" cy="72.4" r="7.3"/>
<circle cx="86.2" cy="86.9" r="8.5"/>
<circle cx="94.6" cy="98.5" r="5.4"/>
<circle cx="118.5" cy="85.6" r="5.2"/>
<circle cx="131.4" cy="93.2" r="8.9"/>
<circle cx="151.1" cy="79.2" r="6.7"/>
<circle cx="174.2" cy="109.2" r="5.4"/>
<circle cx="72.3" cy="149.8" r="6.2"/>
<circle cx="76.4" cy="193.7" r="5.4"/>
<circle cx="89.2" cy="201.2" r="5.3"/>
<circle cx="158.3" cy="201.3" r="7.3"/>
<circle cx="105" cy="243.3" r="5.8"/>
<circle cx="119.4" cy="246.2" r="9.2"/>
<circle cx="91.9" cy="259.6" r="9"/>
<circle cx="71.9" cy="281.3" r="5.8"/>
<circle cx="154.4" cy="242.7" r="5.8"/>
<circle cx="168.8" cy="278.5" r="7.1"/>
</g>
<g stroke="#444" stroke-width="0.7">
<line x1="99.2" y1="42" x2="99.2" y2="46"/>
<line x1="78.5" y1="61" x2="78.5" y2="65"/>
<line x1="118.3" y1="77" x2="118.3" y2="80.5"/>
<line x1="81.5" y1="95" x2="81.5" y2="100"/>
<line x1="95.8" y1="104" x2="95.8" y2="109"/>
<line x1="136.2" y1="101.5" x2="136.2" y2="105.5"/>
<line x1="156.3" y1="70.8" x2="156.3" y2="74"/>
<line x1="175" y1="114.5" x2="175" y2="119"/>
<line x1="74.2" y1="139" x2="74.2" y2="143.5"/>
<line x1="78" y1="189" x2="84" y2="189"/>
<line x1="88.7" y1="206.5" x2="88.7" y2="212"/>
<line x1="161.2" y1="208" x2="161.2" y2="212.5"/>
<line x1="106.5" y1="233" x2="106.5" y2="238"/>
<line x1="88.3" y1="246.5" x2="88.3" y2="251"/>
<line x1="123.4" y1="255.5" x2="124" y2="260"/>
<line x1="77.7" y1="280.8" x2="82.5" y2="280.8"/>
<line x1="160.2" y1="239.8" x2="164" y2="239.8"/>
<line x1="156.3" y1="280.4" x2="161" y2="280.4"/>
</g>
<g stroke="#000" stroke-width="1.5" fill="none" stroke-linecap="butt">
<path d="M63.6 5.6000000000000005 V294.59999999999997"/>
<path d="M59.6 290.4 H507.7"/>
</g><g stroke="#000" stroke-width="1.3">
<line x1="59.6" y1="195.7" x2="63.6" y2="195.7"/>
<line x1="59.6" y1="100.9" x2="63.6" y2="100.9"/>
<line x1="59.6" y1="6.2" x2="63.6" y2="6.2"/>
<line x1="174.4" y1="290.4" x2="174.4" y2="294.59999999999997"/>
<line x1="285.3" y1="290.4" x2="285.3" y2="294.59999999999997"/>
<line x1="396.1" y1="290.4" x2="396.1" y2="294.59999999999997"/>
<line x1="507.0" y1="290.4" x2="507.0" y2="294.59999999999997"/>
</g>
<g font-family="'Liberation Sans', sans-serif" font-weight="bold" font-style="italic">
<text x="90.4" y="40.8" font-size="8.2" text-anchor="start" fill="#2e2e2e" stroke="#2e2e2e" stroke-width="0.25">IL7RA</text>
<text x="68.6" y="49.8" font-size="8.2" text-anchor="start" fill="#2e2e2e" stroke="#2e2e2e" stroke-width="0.25">IL7</text>
<text x="68.6" y="59.8" font-size="8.2" text-anchor="start" fill="#2e2e2e" stroke="#2e2e2e" stroke-width="0.25">RA</text>
<text x="108.3" y="75.3" font-size="8.2" text-anchor="start" fill="#2e2e2e" stroke="#2e2e2e" stroke-width="0.25">IL2RG</text>
<text x="72.1" y="107.1" font-size="8.2" text-anchor="start" fill="#2e2e2e" stroke="#2e2e2e" stroke-width="0.25">IL2</text>
<text x="72.1" y="117.1" font-size="8.2" text-anchor="start" fill="#2e2e2e" stroke="#2e2e2e" stroke-width="0.25">RG</text>
<text x="91.3" y="117.3" font-size="8.2" text-anchor="start" fill="#2e2e2e" stroke="#2e2e2e" stroke-width="0.25">IL2RG</text>
<text x="126.3" y="113.3" font-size="8.2" text-anchor="start" fill="#2e2e2e" stroke="#2e2e2e" stroke-width="0.25">IL2RG</text>
<text x="150" y="69.2" font-size="8.2" text-anchor="start" fill="#2e2e2e" stroke="#2e2e2e" stroke-width="0.25">uncl.</text>
<text x="164.8" y="126.9" font-size="8.2" text-anchor="start" fill="#2e2e2e" stroke="#2e2e2e" stroke-width="0.25">JAK3</text>
<text x="73.1" y="137.9" font-size="8.2" text-anchor="start" fill="#2e2e2e" stroke="#2e2e2e" stroke-width="0.25">JAK3</text>
<text x="90.4" y="192.9" font-size="8.2" text-anchor="start" fill="#2e2e2e" stroke="#2e2e2e" stroke-width="0.25">IL7RA</text>
<text x="75.6" y="219.8" font-size="8.2" text-anchor="start" fill="#2e2e2e" stroke="#2e2e2e" stroke-width="0.25">AK2</text>
<text x="154.2" y="220.6" font-size="8.2" text-anchor="start" fill="#2e2e2e" stroke="#2e2e2e" stroke-width="0.25">RAG1</text>
<text x="100" y="230.4" font-size="8.2" text-anchor="start" fill="#2e2e2e" stroke="#2e2e2e" stroke-width="0.25">uncl.</text>
<text x="72.5" y="244.5" font-size="8.2" text-anchor="start" fill="#2e2e2e" stroke="#2e2e2e" stroke-width="0.25">uncl.</text>
<text x="122.1" y="268.3" font-size="8.2" text-anchor="start" fill="#2e2e2e" stroke="#2e2e2e" stroke-width="0.25">RAG1</text>
<text x="84" y="284" font-size="8.2" text-anchor="start" fill="#2e2e2e" stroke="#2e2e2e" stroke-width="0.25">RAG1</text>
<text x="165.2" y="243" font-size="8.2" text-anchor="start" fill="#2e2e2e" stroke="#2e2e2e" stroke-width="0.25">RAG1</text>
<text x="131.7" y="283.7" font-size="8.2" text-anchor="start" fill="#2e2e2e" stroke="#2e2e2e" stroke-width="0.25">RAG1</text>
<text x="50.8" y="10.9" font-size="10.3" text-anchor="end" fill="#000" >1.000</text>
<text x="50.8" y="106.4" font-size="10.3" text-anchor="end" fill="#000" >100</text>
<text x="50.8" y="202" font-size="10.3" text-anchor="end" fill="#000" >10</text>
<text x="50.8" y="294" font-size="10.3" text-anchor="end" fill="#000" >1</text>
<text x="63.4" y="311.8" font-size="10.3" text-anchor="middle" fill="#000" >1</text>
<text x="173.8" y="311.8" font-size="10.3" text-anchor="middle" fill="#000" >10</text>
<text x="284.6" y="311.8" font-size="10.3" text-anchor="middle" fill="#000" >100</text>
<text x="395" y="311.8" font-size="10.3" text-anchor="middle" fill="#000" >1.000</text>
<text x="501.9" y="311.8" font-size="10.3" text-anchor="middle" fill="#000" >10.000</text>
<text x="466.2" y="19.2" font-size="10.3" text-anchor="start" fill="#000" >DBSS</text>
<text x="466.2" y="37.300000000000004" font-size="10.3" text-anchor="start" fill="#000" >SCID</text>
<text x="466.2" y="55.5" font-size="10.3" text-anchor="start" fill="#000" >XLA</text>
<text x="466.2" y="74.0" font-size="10.3" text-anchor="start" fill="#000" >AT</text>
<text x="466.2" y="92.19999999999999" font-size="10.3" text-anchor="start" fill="#000" >NBS</text>
<text x="466.2" y="110.39999999999999" font-size="10.3" text-anchor="start" fill="#000" >HIGM</text>
<text x="466.2" y="128.7" font-size="10.3" text-anchor="start" fill="#000" >CVID</text>
<text x="466.2" y="146.9" font-size="10.3" text-anchor="start" fill="#000" >IgAD</text>
<text x="472.4" y="176.1" font-size="10.3" text-anchor="middle" fill="#000" >ACTB</text>
<text x="472.4" y="188.4" font-size="10.3" text-anchor="middle" fill="#000" >copies</text>
<text x="473.5" y="211.8" font-size="9.1" text-anchor="start" fill="#000" >9.000</text>
<text x="473.5" y="235.3" font-size="9.1" text-anchor="start" fill="#000" >7.000</text>
<text x="473.5" y="253.9" font-size="9.1" text-anchor="start" fill="#000" >5.000</text>
<text x="473.5" y="268.6" font-size="9.1" text-anchor="start" fill="#000" >3.000</text>
<text x="473.5" y="280.5" font-size="9.1" text-anchor="start" fill="#000" >1.000</text>
</g>
<g font-family="'Liberation Sans', sans-serif" font-weight="bold" fill="#000" font-size="15">
<text x="252.3" y="344">TRECs / µl</text>
<text transform="translate(14,187) rotate(-90)">KRECs / µl</text>
</g>
<g fill="none" stroke="#8a8a8a" stroke-width="1">
<rect x="440.2" y="2.2" width="64.4" height="155"/>
<rect x="440.2" y="161.6" width="64.4" height="123"/>
</g>
<circle cx="454.6" cy="15.6" r="5.5" fill="#a6a6a6"/>
<circle cx="454.6" cy="33.7" r="5.5" fill="#e2000a"/>
<circle cx="454.6" cy="51.9" r="5.5" fill="#99f23a"/>
<circle cx="454.6" cy="70.4" r="5.5" fill="#000"/>
<circle cx="454.6" cy="88.6" r="5.5" fill="#e314e3"/>
<circle cx="454.6" cy="106.8" r="5.5" fill="#0a0af5"/>
<circle cx="454.6" cy="125.1" r="5.5" fill="#4f0a78"/>
<circle cx="454.6" cy="143.3" r="5.5" fill="#7fd3d3"/>
<g fill="#fff" stroke="#555" stroke-width="0.9">
<circle cx="456.7" cy="207.9" r="9.7"/>
<circle cx="457.3" cy="230.8" r="7.8"/>
<circle cx="458.7" cy="249.4" r="6.1"/>
<circle cx="460.1" cy="264.6" r="4.4"/>
<circle cx="462.5" cy="276.2" r="2.7"/>
</g>
</svg>
</body></html>
